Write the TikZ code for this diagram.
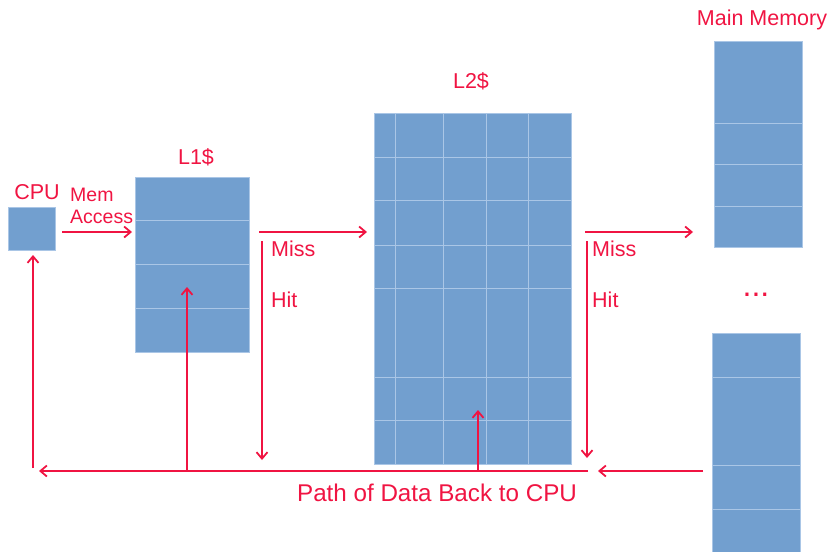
\documentclass[tikz,border=0pt]{standalone}
\usepackage{fontspec}
\setmainfont{Liberation Sans}
\usetikzlibrary{arrows.meta}
\definecolor{cellfill}{RGB}{114,159,207}
\definecolor{cellline}{RGB}{170,198,230}
\definecolor{flow}{RGB}{240,20,66}
\tikzset{
  membox/.style={draw=cellline, line width=0.8pt, fill=cellfill, inner sep=0pt,
                 outer sep=0pt, anchor=north west},
  cellsep/.style={draw=cellline, line width=0.8pt},
  arr/.style={draw=flow, line width=2.6pt,
              -{Straight Barb[length=6.5pt,width=11pt,line width=1.8pt]}},
  lbl/.style={text=flow, font=\fontsize{21.5}{24}\selectfont, inner sep=0pt, anchor=base},
  lblw/.style={lbl, anchor=base west},
}
\begin{document}
\begin{tikzpicture}[x=1pt,y=-1pt]
\useasboundingbox (0,0) rectangle (831,552);

% ---- storage blocks ----
\node[membox, minimum width=47, minimum height=43] (cpu) at (8,207) {};
\node[membox, minimum width=114, minimum height=175] (l1) at (135,177) {};
\node[membox, minimum width=197, minimum height=351] (l2) at (374,113) {};
\node[membox, minimum width=88, minimum height=206] (mmtop) at (714,41) {};
\node[membox, minimum width=88, minimum height=226] (mmbot) at (712,333) {};

% rows of L1
\foreach \y in {220,264,308} \draw[cellsep] (135,\y) -- (249,\y);
% rows and columns of L2
\foreach \y in {157,200,245,288,377,420} \draw[cellsep] (374,\y) -- (571,\y);
\foreach \x in {395,443,486,528} \draw[cellsep] (\x,113) -- (\x,464);
% rows of main memory
\foreach \y in {123,164,206} \draw[cellsep] (714,\y) -- (802,\y);
\foreach \y in {377,465,509} \draw[cellsep] (712,\y) -- (800,\y);

% ---- labels ----
\node[lbl] (cpulbl) at (37,199) {CPU};
\node[lblw, font=\fontsize{19.5}{22}\selectfont] (memlbl) at (70,201) {Mem};
\node[lblw, font=\fontsize{19.5}{22}\selectfont] (acclbl) at (70,223) {Access};
\node[lbl] (l1lbl) at (196,164) {L1\$};
\node[lbl] (l2lbl) at (471,88) {L2\$};
\node[lbl] (mmlbl) at (762,25) {Main Memory};
\node[lblw] (miss1) at (271,256) {Miss};
\node[lblw] (hit1) at (271,307) {Hit};
\node[lblw] (miss2) at (592,256) {Miss};
\node[lblw] (hit2) at (592,307) {Hit};
\node[lbl, font=\fontsize{32}{34}\selectfont] (gap) at (756,296) {...};
\node[lbl, font=\fontsize{24.2}{26}\selectfont] (pathlbl) at (437,501) {Path of Data Back to CPU};

% ---- connector end points ----
\coordinate (reqS) at (62,232);   \coordinate (reqE) at (132,232);
\coordinate (m1S) at (259,232);   \coordinate (m1E) at (367,232);
\coordinate (h1S) at (262,241);   \coordinate (h1E) at (262,460);
\coordinate (m2S) at (585,232);   \coordinate (m2E) at (693,232);
\coordinate (h2S) at (587,241);   \coordinate (h2E) at (587,458);
\coordinate (retS) at (703,471);  \coordinate (retE) at (598,471);
\coordinate (busS) at (588,471);  \coordinate (busE) at (39,471);
\coordinate (upCS) at (33,468);   \coordinate (upCE) at (33,255);
\coordinate (up1S) at (187,471);  \coordinate (up1E) at (187,287);
\coordinate (up2S) at (478,471);  \coordinate (up2E) at (478,410);

% ---- request flow ----
\draw[arr] (reqS) -- (reqE);
\draw[arr] (m1S) -- (m1E);
\draw[arr] (h1S) -- (h1E);
\draw[arr] (m2S) -- (m2E);
\draw[arr] (h2S) -- (h2E);

% ---- data return path ----
\draw[arr] (retS) -- (retE);
\draw[arr] (busS) -- (busE);
\draw[arr] (upCS) -- (upCE);
\draw[arr] (up1S) -- (up1E);
\draw[arr] (up2S) -- (up2E);
\end{tikzpicture}
\end{document}
